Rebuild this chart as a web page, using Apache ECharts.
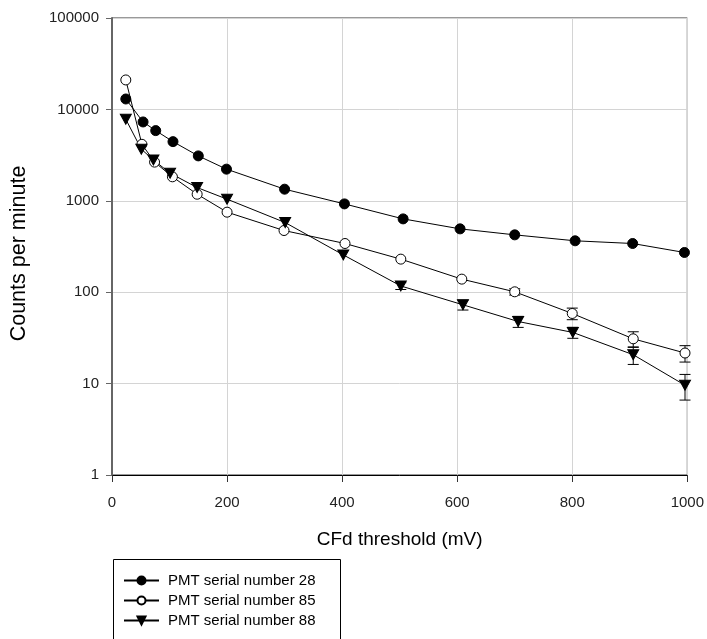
<!DOCTYPE html>
<html>
<head>
<meta charset="utf-8">
<script src="https://cdn.jsdelivr.net/npm/echarts@6/dist/echarts.min.js"></script>
<style>
  html, body { margin: 0; padding: 0; background: #fff; }
  #chart { width: 707px; height: 639px; }
</style>
</head>
<body>
<div id="chart"></div>
<script>
// CFD threshold (mV) and counts per minute for each PMT
const seriesNames = ['PMT serial number 28', 'PMT serial number 85', 'PMT serial number 88'];

const x28 = [24, 54, 76, 106, 150, 199, 300, 404, 506, 605, 700, 805, 905, 995];
const y28 = [13000, 7290, 5860, 4440, 3100, 2220, 1340, 925, 634, 493, 424, 365, 341, 272];

const x85 = [24, 52, 74, 105, 148, 200, 299, 405, 502, 608, 700, 800, 906, 996];
const y85 = [21000, 4150, 2650, 1830, 1180, 751, 473, 341, 230, 139, 101, 58.5, 30.9, 21.6];
const e85 = [0, 0, 0, 0, 0, 0, 0, 0, 0, 0, 8, 8.5, 6, 4.4];

const x88 = [24, 51, 72, 101, 148, 200, 301, 402, 502, 610, 706, 801, 906, 996];
const y88 = [7800, 3670, 2800, 2005, 1396, 1042, 578, 256, 117, 72.8, 47.8, 36.3, 20.7, 9.6];
const e88 = [0, 0, 0, 0, 0, 0, 0, 0, 10, 9, 6.6, 5, 4.5, 3];

const xTicks = [0, 200, 400, 600, 800, 1000];
const yTicks = [1, 10, 100, 1000, 10000, 100000];

const FONT = '"Liberation Sans", Arial, sans-serif';

const pairs = (xs, ys) => xs.map((x, i) => [x, ys[i]]);
const triples = (xs, ys, es) =>
  xs.map((x, i) => [x, ys[i], es[i]]).filter(d => d[2] > 0);

// vertical error bar with short caps, placed through the axes' own scales
function errorBar(params, api) {
  const x = api.value(0), y = api.value(1), e = api.value(2);
  const top = api.coord([x, y + e]);
  const bot = api.coord([x, y - e]);
  const hw = 5.5;
  const style = { stroke: '#000', lineWidth: 1 };
  return {
    type: 'group',
    children: [
      { type: 'line', shape: { x1: top[0], y1: top[1], x2: bot[0], y2: bot[1] }, style },
      { type: 'line', shape: { x1: top[0] - hw, y1: top[1], x2: top[0] + hw, y2: top[1] }, style },
      { type: 'line', shape: { x1: bot[0] - hw, y1: bot[1], x2: bot[0] + hw, y2: bot[1] }, style }
    ]
  };
}

function lineSeries(name, data, symbol, fill, extra) {
  return Object.assign({
    name,
    type: 'line',
    data,
    symbol,
    symbolSize: 10,
    showAllSymbol: true,
    z: 3,
    lineStyle: { color: '#000', width: 1 },
    itemStyle: { color: fill, borderColor: '#000', borderWidth: 1 },
    emphasis: { disabled: true },
    animation: false
  }, extra || {});
}

// one legend row per series, stacked inside a framed box
const legendRowTops = [573, 593, 613];
const legends = seriesNames.map((name, i) => ({
  data: [name],
  orient: 'horizontal',
  left: 123,
  top: legendRowTops[i],
  padding: 0,
  itemWidth: 35,
  itemHeight: 10,
  selectedMode: false,
  textStyle: { fontFamily: FONT, fontSize: 15, color: '#000', lineHeight: 15, padding: [0, 0, 0, 4] }
}));

const chart = echarts.init(document.getElementById('chart'), null, { renderer: 'canvas' });

chart.setOption({
  backgroundColor: '#fff',
  textStyle: { fontFamily: FONT },
  grid: {
    left: 112, right: 18, top: 18, bottom: 164,
    show: true, borderColor: '#333', borderWidth: 1, backgroundColor: 'transparent'
  },
  legend: legends,
  graphic: [{
    type: 'rect',
    left: 111, top: 557,
    shape: { width: 227, height: 100 },
    style: { fill: 'none', stroke: '#000', lineWidth: 1 },
    silent: true
  }],
  xAxis: {
    type: 'value',
    min: xTicks[0], max: xTicks[xTicks.length - 1], interval: 200,
    name: 'CFd threshold (mV)',
    nameLocation: 'middle',
    nameGap: 55,
    nameTextStyle: { fontFamily: FONT, fontSize: 19, color: '#000' },
    axisLine: { lineStyle: { color: '#000', width: 1 } },
    axisTick: { show: true, inside: false, length: 7, lineStyle: { color: '#333' } },
    axisLabel: {
      fontFamily: FONT, fontSize: 15, color: '#222', margin: 20,
      formatter: v => String(v)
    },
    splitLine: { show: true, lineStyle: { color: '#d4d4d4', width: 1 } }
  },
  yAxis: {
    type: 'log',
    logBase: 10,
    min: yTicks[0], max: yTicks[yTicks.length - 1],
    name: 'Counts per minute',
    nameLocation: 'middle',
    nameRotate: 90,
    nameGap: 82,
    nameTextStyle: { fontFamily: FONT, fontSize: 21.5, color: '#000', padding: [0, 14, 0, 0] },
    axisLine: { show: true, lineStyle: { color: '#666', width: 2 } },
    axisTick: { show: true, inside: false, length: 6, lineStyle: { color: '#666' } },
    axisLabel: {
      fontFamily: FONT, fontSize: 15, color: '#222', margin: 13,
      formatter: v => String(Math.round(v))
    },
    splitLine: { show: true, lineStyle: { color: '#d4d4d4', width: 1 } },
    minorTick: { show: false }
  },
  series: [
    {
      type: 'custom', name: 'err85', renderItem: errorBar, z: 1,
      data: triples(x85, y85, e85), encode: { x: 0, y: 1 }, silent: true, animation: false
    },
    {
      type: 'custom', name: 'err88', renderItem: errorBar, z: 1,
      data: triples(x88, y88, e88), encode: { x: 0, y: 1 }, silent: true, animation: false
    },
    lineSeries(seriesNames[0], pairs(x28, y28), 'circle', '#000'),
    lineSeries(seriesNames[1], pairs(x85, y85), 'circle', '#fff'),
    lineSeries(seriesNames[2], pairs(x88, y88), 'triangle', '#000', { symbolRotate: 180, symbolSize: [11, 10] })
  ]
});
</script>
</body>
</html>
